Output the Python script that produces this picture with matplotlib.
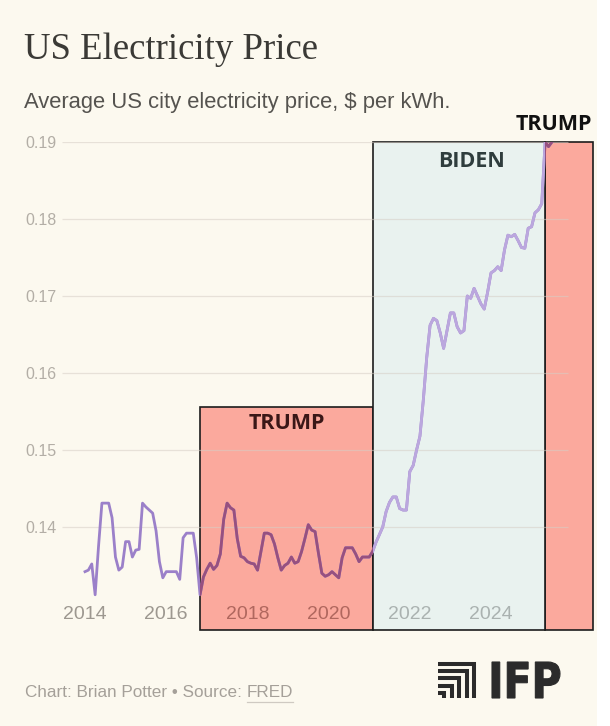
import numpy as np
import matplotlib.pyplot as plt
from matplotlib.patches import Rectangle, PathPatch
from matplotlib.lines import Line2D
from matplotlib.textpath import TextPath
from matplotlib.font_manager import FontProperties
from matplotlib.transforms import Affine2D

# monthly average price, $ per kWh, starting Jan 2014
price_2014 = [.1342, .1344, .1352, .1312, .1375, .1431, .1431, .1431, .1412, .1361, .1344, .1348]
price_2015 = [.1381, .1381, .1361, .1370, .1371, .1431, .1426, .1422, .1418, .1395, .1355, .1334]
price_2016 = [.1342, .1342, .1342, .1342, .1332, .1386, .1392, .1392, .1392, .1360, .1312, .1335]
price_2017 = [.1345, .1353, .1345, .1350, .1365, .1410, .1431, .1425, .1422, .1385, .1362, .1360]
price_2018 = [.1355, .1353, .1352, .1344, .1368, .1392, .1392, .1390, .1378, .1360, .1344, .1350]
price_2019 = [.1353, .1361, .1353, .1355, .1368, .1385, .1403, .1396, .1394, .1366, .1340, .1336]
price_2020 = [.1338, .1342, .1338, .1334, .1360, .1373, .1373, .1373, .1365, .1355, .1361, .1361]
price_2021 = [.1361, .1368, .1380, .1390, .1400, .1420, .1432, .1439, .1439, .1424, .1422, .1422]
price_2022 = [.1472, .1480, .1500, .1518, .1565, .1620, .1662, .1671, .1668, .1652, .1632, .1655]
price_2023 = [.1678, .1678, .1660, .1652, .1655, .1700, .1697, .1710, .1700, .1690, .1683, .1705]
price_2024 = [.1730, .1733, .1738, .1733, .1760, .1779, .1777, .1780, .1772, .1763, .1762, .1788]
price_2025 = [.1790, .1808, .1812, .1820, .1900, .1894, .1900]

start_year = 2014
year_ticks = [2014, 2016, 2018, 2020, 2022, 2024]
price_ticks = [0.14, 0.15, 0.16, 0.17, 0.18, 0.19]

# terms as drawn on the chart (fractional years)
trump_terms = [(2016.83, 2021.09, 0.1556), (2025.33, 2026.51, 0.19)]
biden_term = (2021.09, 2025.33, 0.19)

prices = np.array(price_2014 + price_2015 + price_2016 + price_2017 + price_2018 + price_2019
                  + price_2020 + price_2021 + price_2022 + price_2023 + price_2024 + price_2025)
dates = start_year + np.arange(len(prices)) / 12

W, H = 610, 726
BG = '#fcf9ef'
LINE = '#9b80c9'

def fx(x):
    return x / W

def fy(y):
    return 1 - y / H

fig = plt.figure(figsize=(W / 100, H / 100), dpi=100, facecolor=BG)
ax = fig.add_axes([fx(62), fy(630), fx(597) - fx(62), fy(142) - fy(630)])
ax.set_facecolor('none')

px_per_year = 40.6
px_per_unit = 7700
ax.set_xlim(start_year + (62 - 85) / px_per_year, start_year + (597 - 85) / px_per_year)
ybot = 0.19 - (630 - 142) / px_per_unit
ax.set_ylim(ybot, 0.19)

for s in ax.spines.values():
    s.set_visible(False)

# term boxes
trump_boxes = []
for x0, x1, top in trump_terms:
    r = Rectangle((x0, ybot), x1 - x0, top - ybot, facecolor='#fba99d', edgecolor='#1c1c1c',
                  lw=1.2, zorder=1, clip_on=False)
    ax.add_patch(r)
    trump_boxes.append(r)
x0, x1, top = biden_term
biden_box = Rectangle((x0, ybot), x1 - x0, top - ybot, facecolor='#e9f2ef', edgecolor='#1c1c1c',
                      lw=1.2, zorder=1, clip_on=False)
ax.add_patch(biden_box)

# gridlines
grid_end = start_year + (568 - 85) / px_per_year
ax.hlines(price_ticks, ax.get_xlim()[0], grid_end, color='#d6cec6', alpha=0.55, lw=0.9, zorder=1.5)

# price line, recoloured inside each box
ax.plot(dates, prices, color=LINE, lw=2.0, zorder=3, solid_joinstyle='round')
for r in trump_boxes:
    ln, = ax.plot(dates, prices, color='#97507f', lw=2.0, zorder=4, solid_joinstyle='round')
    ln.set_clip_path(r)
ln, = ax.plot(dates, prices, color='#bba7de', lw=2.0, zorder=4, solid_joinstyle='round')
ln.set_clip_path(biden_box)

# y ticks
ax.set_yticks(price_ticks)
ax.set_yticklabels([f'{v:.2f}' for v in price_ticks])
ax.tick_params(axis='y', length=0, pad=4, labelsize=11.5, labelcolor='#b3aea6')
for t in ax.get_yticklabels():
    t.set_fontfamily('Liberation Sans')
ax.set_xticks([])

# x labels sit inside the plot area
label_y = 0.19 - (614 - 142) / px_per_unit
label_colors = {2014: '#9d9890', 2016: '#9d9890', 2018: '#b0675e', 2020: '#b0675e',
                2022: '#aab2b0', 2024: '#aab2b0'}
for yr in year_ticks:
    ax.text(yr, label_y, str(yr), ha='center', va='center', fontsize=14,
            family='Liberation Sans', color=label_colors[yr], zorder=5)

# box labels
ax.text((trump_terms[0][0] + trump_terms[0][1]) / 2, 0.19 - (423 - 142) / px_per_unit, 'TRUMP',
        ha='center', va='center', fontsize=15.5, fontweight='bold', family='Open Sans',
        color='#3a1717', zorder=5)
ax.text(2023.52, 0.19 - (161 - 142) / px_per_unit, 'BIDEN', ha='center', va='center',
        fontsize=15.5, fontweight='bold', family='Open Sans', color='#2f3d3d', zorder=5)
fig.text(fx(554), fy(124), 'TRUMP', ha='center', va='center', fontsize=15.5,
         fontweight='bold', family='Open Sans', color='#111111')

# titles
fig.text(fx(24), fy(59), 'US Electricity Price', ha='left', va='baseline', fontsize=26.5,
         family='Liberation Serif', color='#3b3a36')
fig.text(fx(24), fy(108), 'Average US city electricity price, $ per kWh.', ha='left',
         va='baseline', fontsize=15.8, family='Liberation Sans', color='#55534f')

# footer
t1 = fig.text(fx(25), fy(697), 'Chart: Brian Potter \u2022 Source: ', ha='left', va='baseline',
              fontsize=12.3, family='Liberation Sans', color='#a5a099')
renderer = fig.canvas.get_renderer()
bb = t1.get_window_extent(renderer)
t2 = fig.text(bb.x1 / W, fy(697), 'FRED', ha='left', va='baseline', fontsize=12.3,
              family='Liberation Sans', color='#a5a099')
bb2 = t2.get_window_extent(renderer)
fig.add_artist(Line2D([bb2.x0 / W, bb2.x1 / W], [fy(702), fy(702)], color='#cfcac2', lw=0.9))

# IFP logo: nested corner marks + wordmark
left, bottom = 438, 698
for i in range(5):
    cx = 474 - 7.4 * i
    cy = 663.5 + 7.4 * i
    fig.add_artist(Line2D([fx(left), fx(cx), fx(cx)], [fy(cy), fy(cy), fy(bottom)],
                          color='#2b2b2b', lw=2.9, solid_joinstyle='miter',
                          solid_capstyle='butt'))

tp = TextPath((0, 0), 'IFP', size=100, prop=FontProperties(family='DejaVu Sans', weight='bold'))
ext = tp.get_extents()
logo_tf = (Affine2D().translate(-ext.x0, -ext.y0)
           .scale(68 / ext.width, 36 / ext.height)
           .translate(492, H - 698))
fig.add_artist(PathPatch(tp, transform=logo_tf, facecolor='#2b2b2b', edgecolor='#2b2b2b', lw=0.8))

# white strip along the right edge
fig.add_artist(Rectangle((fx(597), 0), 1 - fx(597), 1, transform=fig.transFigure,
                         facecolor='white', edgecolor='none', zorder=10))

fig.savefig('out.png', dpi=100, facecolor=BG)
